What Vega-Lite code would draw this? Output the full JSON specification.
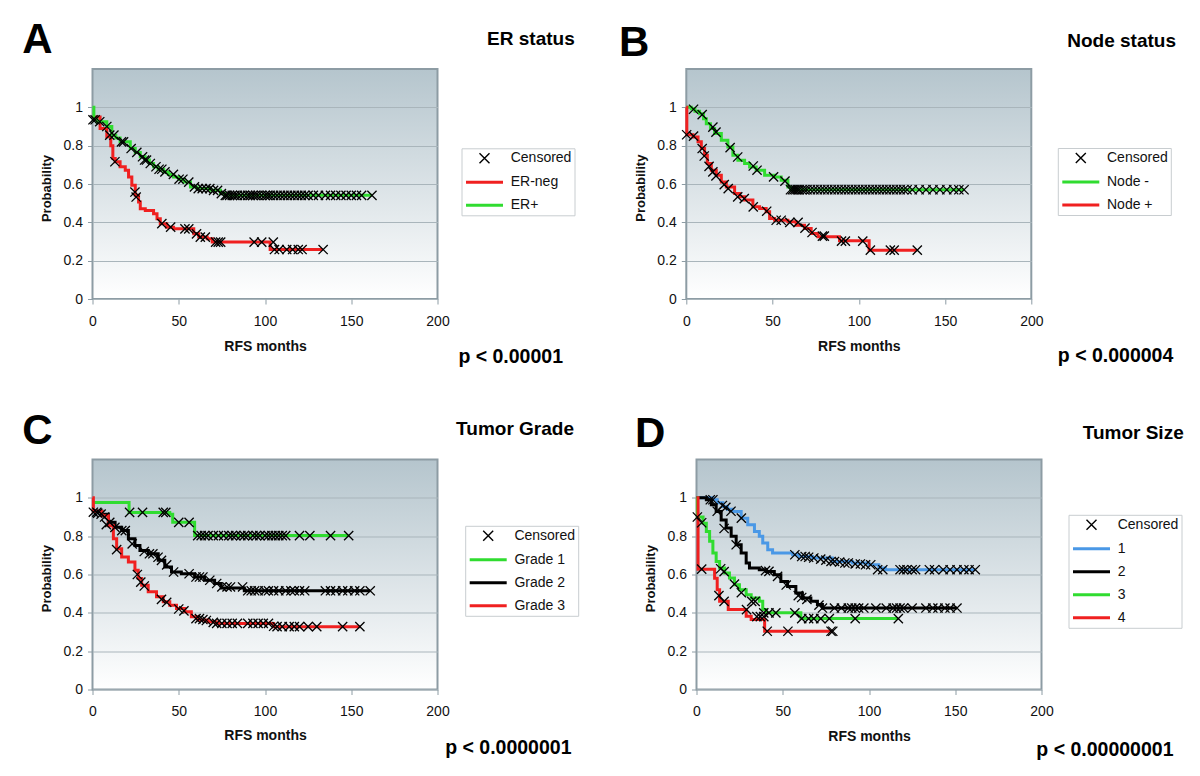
{
"$schema": "https://vega.github.io/schema/vega-lite/v6.json",
"background": "white",
"padding": {"left": 15.5, "top": 13, "right": 0, "bottom": 0},
"spacing": 35.5,
"resolve": {"scale": {"color": "independent", "x": "independent", "y": "independent"}, "legend": {"color": "independent"}},
"vconcat": [
{"hconcat": [
{
"width": 345, "height": 230,
"title": {"text": "p < 0.00001", "orient": "bottom", "anchor": "end", "frame": "group", "align": "right", "baseline": "alphabetic", "dx": 125.5, "offset": 8.4, "font": "Liberation Sans", "fontSize": 19.5, "fontWeight": "bold", "color": "#000000"},
"resolve": {"axis": {"x": "independent", "y": "independent"}},
"layer": [
{"data": {"name": "a_curve"}, "mark": {"type": "line", "interpolate": "step-after", "strokeWidth": 3},
 "encoding": {
  "x": {"field": "t", "type": "quantitative", "scale": {"domain": [0, 200], "nice": false}, "axis": {"orient": "bottom", "values": [0, 50, 100, 150, 200], "labelFlush": false, "grid": false, "tickSize": 5, "labelPadding": 10, "title": "RFS months", "titleFontSize": 14, "titleFontWeight": "bold", "titleX": 172.5, "titleY": 51, "titleAlign": "center", "titleBaseline": "alphabetic", "minExtent": 56}},
  "y": {"field": "p", "type": "quantitative", "scale": {"domain": [0, 1.2], "nice": false}, "axis": {"orient": "left", "values": [0, 0.2, 0.4, 0.6, 0.8, 1], "format": "~g", "grid": true, "tickSize": 5, "labelPadding": 5, "title": "Probability", "titleFontSize": 13, "titleFontWeight": "bold", "titleAngle": 270, "titleAlign": "center", "titleBaseline": "middle", "titleX": -46, "titleY": 119, "minExtent": 76}},
  "color": {"field": "g", "type": "nominal", "scale": {"domain": ["Censored", "ER-neg", "ER+"], "range": ["#000000", "#f02020", "#30dc30"]},
   "legend": {"orient": "none", "legendX": 369, "legendY": 79.3, "title": null,
    "encode": {"symbols": {"update": {"size": {"value": 1369}, "shape": {"signal": "datum.value === 'Censored' ? 'M-0.27,-0.27L0.27,0.27M-0.27,0.27L0.27,-0.27' : 'M-1,0L1,0'"}, "strokeWidth": {"signal": "datum.value === 'Censored' ? 1.4 : 3"}, "fill": {"value": "transparent"}, "opacity": {"value": 1}}}}}}
 }},
{"data": {"name": "a_cens"}, "mark": {"type": "point", "shape": "M-1,-1L1,1M-1,1L1,-1", "size": 85, "filled": false, "strokeWidth": 1.3, "opacity": 1},
 "encoding": {
  "x": {"field": "t", "type": "quantitative", "axis": {"orient": "top", "labels": false, "ticks": false, "domain": false, "grid": false, "title": "A", "titleFontSize": 42, "titleFontWeight": "bold", "titleColor": "#000000", "titleAngle": 0, "titleAlign": "left", "titleBaseline": "alphabetic", "titleX": -70.8, "titleY": -16.3, "minExtent": 55}},
  "y": {"field": "p", "type": "quantitative", "axis": {"orient": "right", "labels": false, "ticks": false, "domain": false, "grid": false, "title": "ER status", "titleFont": "Liberation Sans", "titleFontSize": 19, "titleFontWeight": "bold", "titleColor": "#000000", "titleAngle": 0, "titleAlign": "right", "titleBaseline": "alphabetic", "titleX": 136.7, "titleY": -24.7, "minExtent": 0}},
  "color": {"datum": "Censored", "type": "nominal", "scale": {"domain": ["Censored", "ER-neg", "ER+"], "range": ["#000000", "#f02020", "#30dc30"]}}
 }}
]
},
{
"width": 345, "height": 230,
"title": {"text": "p < 0.000004", "orient": "bottom", "anchor": "end", "frame": "group", "align": "right", "baseline": "alphabetic", "dx": 142, "offset": 7.4, "font": "Liberation Sans", "fontSize": 19.5, "fontWeight": "bold", "color": "#000000"},
"resolve": {"axis": {"x": "independent", "y": "independent"}},
"layer": [
{"data": {"name": "b_curve"}, "mark": {"type": "line", "interpolate": "step-after", "strokeWidth": 3},
 "encoding": {
  "x": {"field": "t", "type": "quantitative", "scale": {"domain": [0, 200], "nice": false}, "axis": {"orient": "bottom", "values": [0, 50, 100, 150, 200], "labelFlush": false, "grid": false, "tickSize": 5, "labelPadding": 10, "title": "RFS months", "titleFontSize": 14, "titleFontWeight": "bold", "titleX": 172.5, "titleY": 51.2, "titleAlign": "center", "titleBaseline": "alphabetic", "minExtent": 56}},
  "y": {"field": "p", "type": "quantitative", "scale": {"domain": [0, 1.2], "nice": false}, "axis": {"orient": "left", "values": [0, 0.2, 0.4, 0.6, 0.8, 1], "format": "~g", "grid": true, "tickSize": 5, "labelPadding": 5, "title": "Probability", "titleFontSize": 13, "titleFontWeight": "bold", "titleAngle": 270, "titleAlign": "center", "titleBaseline": "middle", "titleX": -46, "titleY": 118.7, "minExtent": 70}},
  "color": {"field": "g", "type": "nominal", "scale": {"domain": ["Censored", "Node -", "Node +"], "range": ["#000000", "#30dc30", "#f02020"]},
   "legend": {"orient": "none", "legendX": 371.5, "legendY": 79, "title": null,
    "encode": {"symbols": {"update": {"size": {"value": 1369}, "shape": {"signal": "datum.value === 'Censored' ? 'M-0.27,-0.27L0.27,0.27M-0.27,0.27L0.27,-0.27' : 'M-1,0L1,0'"}, "strokeWidth": {"signal": "datum.value === 'Censored' ? 1.4 : 3"}, "fill": {"value": "transparent"}, "opacity": {"value": 1}}}}}}
 }},
{"data": {"name": "b_cens"}, "mark": {"type": "point", "shape": "M-1,-1L1,1M-1,1L1,-1", "size": 85, "filled": false, "strokeWidth": 1.3, "opacity": 1},
 "encoding": {
  "x": {"field": "t", "type": "quantitative", "axis": {"orient": "top", "labels": false, "ticks": false, "domain": false, "grid": false, "title": "B", "titleFontSize": 42, "titleFontWeight": "bold", "titleColor": "#000000", "titleAngle": 0, "titleAlign": "left", "titleBaseline": "alphabetic", "titleX": -67.7, "titleY": -13.7, "minExtent": 55}},
  "y": {"field": "p", "type": "quantitative", "axis": {"orient": "right", "labels": false, "ticks": false, "domain": false, "grid": false, "title": "Node status", "titleFont": "Liberation Sans", "titleFontSize": 19, "titleFontWeight": "bold", "titleColor": "#000000", "titleAngle": 0, "titleAlign": "right", "titleBaseline": "alphabetic", "titleX": 144.2, "titleY": -23, "minExtent": 0}},
  "color": {"datum": "Censored", "type": "nominal", "scale": {"domain": ["Censored", "Node -", "Node +"], "range": ["#000000", "#30dc30", "#f02020"]}}
 }}
]
}
], "spacing": 38.8, "resolve": {"scale": {"color": "independent", "x": "independent", "y": "independent"}, "legend": {"color": "independent"}}},
{"hconcat": [
{
"width": 345, "height": 230,
"title": {"text": "p < 0.0000001", "orient": "bottom", "anchor": "end", "frame": "group", "align": "right", "baseline": "alphabetic", "dx": 134, "offset": 8.4, "font": "Liberation Sans", "fontSize": 19.5, "fontWeight": "bold", "color": "#000000"},
"resolve": {"axis": {"x": "independent", "y": "independent"}},
"layer": [
{"data": {"name": "c_curve"}, "mark": {"type": "line", "interpolate": "step-after", "strokeWidth": 3},
 "encoding": {
  "x": {"field": "t", "type": "quantitative", "scale": {"domain": [0, 200], "nice": false}, "axis": {"orient": "bottom", "values": [0, 50, 100, 150, 200], "labelFlush": false, "grid": false, "tickSize": 5, "labelPadding": 10, "title": "RFS months", "titleFontSize": 14, "titleFontWeight": "bold", "titleX": 172.5, "titleY": 50.2, "titleAlign": "center", "titleBaseline": "alphabetic", "minExtent": 56}},
  "y": {"field": "p", "type": "quantitative", "scale": {"domain": [0, 1.2], "nice": false}, "axis": {"orient": "left", "values": [0, 0.2, 0.4, 0.6, 0.8, 1], "format": "~g", "grid": true, "tickSize": 5, "labelPadding": 5, "title": "Probability", "titleFontSize": 13, "titleFontWeight": "bold", "titleAngle": 270, "titleAlign": "center", "titleBaseline": "middle", "titleX": -45.8, "titleY": 118.7, "minExtent": 73}},
  "color": {"field": "g", "type": "nominal", "scale": {"domain": ["Censored", "Grade 1", "Grade 2", "Grade 3"], "range": ["#000000", "#30dc30", "#000000", "#f02020"]},
   "legend": {"orient": "none", "legendX": 372.7, "legendY": 66.3, "title": null,
    "encode": {"symbols": {"update": {"size": {"value": 1369}, "shape": {"signal": "datum.value === 'Censored' ? 'M-0.27,-0.27L0.27,0.27M-0.27,0.27L0.27,-0.27' : 'M-1,0L1,0'"}, "strokeWidth": {"signal": "datum.value === 'Censored' ? 1.4 : 3"}, "fill": {"value": "transparent"}, "opacity": {"value": 1}}}}}}
 }},
{"data": {"name": "c_cens"}, "mark": {"type": "point", "shape": "M-1,-1L1,1M-1,1L1,-1", "size": 85, "filled": false, "strokeWidth": 1.3, "opacity": 1},
 "encoding": {
  "x": {"field": "t", "type": "quantitative", "axis": {"orient": "top", "labels": false, "ticks": false, "domain": false, "grid": false, "title": "C", "titleFontSize": 42, "titleFontWeight": "bold", "titleColor": "#000000", "titleAngle": 0, "titleAlign": "left", "titleBaseline": "alphabetic", "titleX": -70.8, "titleY": -16, "minExtent": 55}},
  "y": {"field": "p", "type": "quantitative", "axis": {"orient": "right", "labels": false, "ticks": false, "domain": false, "grid": false, "title": "Tumor Grade", "titleFont": "Liberation Sans", "titleFontSize": 19, "titleFontWeight": "bold", "titleColor": "#000000", "titleAngle": 0, "titleAlign": "right", "titleBaseline": "alphabetic", "titleX": 136, "titleY": -25.3, "minExtent": 0}},
  "color": {"datum": "Censored", "type": "nominal", "scale": {"domain": ["Censored", "Grade 1", "Grade 2", "Grade 3"], "range": ["#000000", "#30dc30", "#000000", "#f02020"]}}
 }}
]
},
{
"width": 345, "height": 230,
"title": {"text": "p < 0.00000001", "orient": "bottom", "anchor": "end", "frame": "group", "align": "right", "baseline": "alphabetic", "dx": 132, "offset": 10, "font": "Liberation Sans", "fontSize": 19.5, "fontWeight": "bold", "color": "#000000"},
"resolve": {"axis": {"x": "independent", "y": "independent"}},
"layer": [
{"data": {"name": "d_curve"}, "mark": {"type": "line", "interpolate": "step-after", "strokeWidth": 3},
 "encoding": {
  "x": {"field": "t", "type": "quantitative", "scale": {"domain": [0, 200], "nice": false}, "axis": {"orient": "bottom", "values": [0, 50, 100, 150, 200], "labelFlush": false, "grid": false, "tickSize": 5, "labelPadding": 10, "title": "RFS months", "titleFontSize": 14, "titleFontWeight": "bold", "titleX": 172.5, "titleY": 51.2, "titleAlign": "center", "titleBaseline": "alphabetic", "minExtent": 56}},
  "y": {"field": "p", "type": "quantitative", "scale": {"domain": [0, 1.2], "nice": false}, "axis": {"orient": "left", "values": [0, 0.2, 0.4, 0.6, 0.8, 1], "format": "~g", "grid": true, "tickSize": 5, "labelPadding": 5, "title": "Probability", "titleFontSize": 13, "titleFontWeight": "bold", "titleAngle": 270, "titleAlign": "center", "titleBaseline": "middle", "titleX": -45.7, "titleY": 118.7, "minExtent": 70}},
  "color": {"field": "g", "type": "nominal", "scale": {"domain": ["Censored", "1", "2", "3", "4"], "range": ["#000000", "#4a98e6", "#000000", "#30dc30", "#f02020"]},
   "legend": {"orient": "none", "legendX": 372, "legendY": 55.3, "title": null,
    "encode": {"symbols": {"update": {"size": {"value": 1369}, "shape": {"signal": "datum.value === 'Censored' ? 'M-0.27,-0.27L0.27,0.27M-0.27,0.27L0.27,-0.27' : 'M-1,0L1,0'"}, "strokeWidth": {"signal": "datum.value === 'Censored' ? 1.4 : 3"}, "fill": {"value": "transparent"}, "opacity": {"value": 1}}}}}}
 }},
{"data": {"name": "d_cens"}, "mark": {"type": "point", "shape": "M-1,-1L1,1M-1,1L1,-1", "size": 85, "filled": false, "strokeWidth": 1.3, "opacity": 1},
 "encoding": {
  "x": {"field": "t", "type": "quantitative", "axis": {"orient": "top", "labels": false, "ticks": false, "domain": false, "grid": false, "title": "D", "titleFontSize": 42, "titleFontWeight": "bold", "titleColor": "#000000", "titleAngle": 0, "titleAlign": "left", "titleBaseline": "alphabetic", "titleX": -61.9, "titleY": -13, "minExtent": 55}},
  "y": {"field": "p", "type": "quantitative", "axis": {"orient": "right", "labels": false, "ticks": false, "domain": false, "grid": false, "title": "Tumor Size", "titleFont": "Liberation Sans", "titleFontSize": 19, "titleFontWeight": "bold", "titleColor": "#000000", "titleAngle": 0, "titleAlign": "right", "titleBaseline": "alphabetic", "titleX": 141.7, "titleY": -21.3, "minExtent": 0}},
  "color": {"datum": "Censored", "type": "nominal", "scale": {"domain": ["Censored", "1", "2", "3", "4"], "range": ["#000000", "#4a98e6", "#000000", "#30dc30", "#f02020"]}}
 }}
]
}
], "spacing": 45, "resolve": {"scale": {"color": "independent", "x": "independent", "y": "independent"}, "legend": {"color": "independent"}}}
],
"datasets": {
"a_curve": [
{"g":"ER-neg","t":0,"p":0.95},{"g":"ER-neg","t":4.4,"p":0.89},{"g":"ER-neg","t":8.3,"p":0.846},{"g":"ER-neg","t":10.6,"p":0.8},{"g":"ER-neg","t":11.8,"p":0.733},{"g":"ER-neg","t":13.2,"p":0.716},{"g":"ER-neg","t":16,"p":0.69},{"g":"ER-neg","t":19,"p":0.672},{"g":"ER-neg","t":20.9,"p":0.637},{"g":"ER-neg","t":22.8,"p":0.593},{"g":"ER-neg","t":24.8,"p":0.541},{"g":"ER-neg","t":26.7,"p":0.506},{"g":"ER-neg","t":27.7,"p":0.471},{"g":"ER-neg","t":30.6,"p":0.462},{"g":"ER-neg","t":35.4,"p":0.445},{"g":"ER-neg","t":37.4,"p":0.419},{"g":"ER-neg","t":39.3,"p":0.393},{"g":"ER-neg","t":43,"p":0.375},{"g":"ER-neg","t":47,"p":0.366},{"g":"ER-neg","t":58.7,"p":0.34},{"g":"ER-neg","t":61.6,"p":0.323},{"g":"ER-neg","t":66.5,"p":0.314},{"g":"ER-neg","t":69.4,"p":0.297},{"g":"ER-neg","t":103,"p":0.258},{"g":"ER-neg","t":133.5,"p":0.258},
{"g":"ER+","t":0,"p":1.0},{"g":"ER+","t":0.8,"p":0.935},{"g":"ER+","t":2.5,"p":0.925},{"g":"ER+","t":8.3,"p":0.9},{"g":"ER+","t":11.2,"p":0.855},{"g":"ER+","t":13.5,"p":0.84},{"g":"ER+","t":16,"p":0.82},{"g":"ER+","t":21.9,"p":0.785},{"g":"ER+","t":24.8,"p":0.765},{"g":"ER+","t":27.7,"p":0.742},{"g":"ER+","t":30.5,"p":0.725},{"g":"ER+","t":33,"p":0.707},{"g":"ER+","t":35.4,"p":0.69},{"g":"ER+","t":38,"p":0.677},{"g":"ER+","t":41.3,"p":0.663},{"g":"ER+","t":44,"p":0.65},{"g":"ER+","t":47,"p":0.637},{"g":"ER+","t":50,"p":0.625},{"g":"ER+","t":53,"p":0.61},{"g":"ER+","t":56.8,"p":0.585},{"g":"ER+","t":60.6,"p":0.576},{"g":"ER+","t":68.4,"p":0.567},{"g":"ER+","t":74.2,"p":0.55},{"g":"ER+","t":76.5,"p":0.541},{"g":"ER+","t":162,"p":0.541}
],
"a_cens": [
{"t":0.3,"p":0.935},{"t":1.5,"p":0.935},{"t":4.2,"p":0.925},{"t":8.3,"p":0.9},{"t":10,"p":0.855},{"t":12.4,"p":0.855},{"t":16.8,"p":0.82},{"t":18,"p":0.82},{"t":22.4,"p":0.785},{"t":25.7,"p":0.765},{"t":29,"p":0.742},{"t":30.2,"p":0.725},{"t":31.3,"p":0.725},{"t":33.5,"p":0.707},{"t":36.8,"p":0.69},{"t":38.6,"p":0.677},{"t":40.2,"p":0.677},{"t":42,"p":0.663},{"t":46.9,"p":0.65},{"t":50.2,"p":0.625},{"t":52.4,"p":0.625},{"t":55.8,"p":0.61},{"t":59.1,"p":0.585},{"t":61.3,"p":0.576},{"t":63.6,"p":0.576},{"t":65.8,"p":0.576},{"t":68,"p":0.576},{"t":70.2,"p":0.567},{"t":72.5,"p":0.567},{"t":74.7,"p":0.55},{"t":77,"p":0.541},{"t":78,"p":0.541},{"t":79.5,"p":0.541},{"t":81,"p":0.541},{"t":82.5,"p":0.541},{"t":84,"p":0.541},{"t":86,"p":0.541},{"t":88,"p":0.541},{"t":90,"p":0.541},{"t":91.5,"p":0.541},{"t":93,"p":0.541},{"t":94.5,"p":0.541},{"t":96,"p":0.541},{"t":98,"p":0.541},{"t":100,"p":0.541},{"t":101.5,"p":0.541},{"t":103,"p":0.541},{"t":105,"p":0.541},{"t":107,"p":0.541},{"t":109,"p":0.541},{"t":111,"p":0.541},{"t":113,"p":0.541},{"t":115,"p":0.541},{"t":117,"p":0.541},{"t":119,"p":0.541},{"t":121,"p":0.541},{"t":123,"p":0.541},{"t":125,"p":0.541},{"t":128,"p":0.541},{"t":131,"p":0.541},{"t":135,"p":0.541},{"t":138,"p":0.541},{"t":141,"p":0.541},{"t":144,"p":0.541},{"t":147,"p":0.541},{"t":150,"p":0.541},{"t":153,"p":0.541},{"t":156,"p":0.541},{"t":162,"p":0.541},
{"t":13,"p":0.716},{"t":24.6,"p":0.558},{"t":25.3,"p":0.532},{"t":40.2,"p":0.393},{"t":45.3,"p":0.375},{"t":53.6,"p":0.366},{"t":55.8,"p":0.366},{"t":60.3,"p":0.34},{"t":62.5,"p":0.323},{"t":65.4,"p":0.323},{"t":71.4,"p":0.297},{"t":72.9,"p":0.297},{"t":74.3,"p":0.297},{"t":93.7,"p":0.297},{"t":98.1,"p":0.297},{"t":104.8,"p":0.297},{"t":105.5,"p":0.258},{"t":108.2,"p":0.258},{"t":112.6,"p":0.258},{"t":116,"p":0.258},{"t":119.3,"p":0.258},{"t":121.5,"p":0.258},{"t":133.7,"p":0.258}
],
"b_curve": [
{"g":"Node -","t":0,"p":1.0},{"g":"Node -","t":2.9,"p":0.993},{"g":"Node -","t":5,"p":0.98},{"g":"Node -","t":7.7,"p":0.967},{"g":"Node -","t":10,"p":0.94},{"g":"Node -","t":11.6,"p":0.915},{"g":"Node -","t":14,"p":0.89},{"g":"Node -","t":16.4,"p":0.863},{"g":"Node -","t":20.3,"p":0.828},{"g":"Node -","t":24.1,"p":0.793},{"g":"Node -","t":27,"p":0.75},{"g":"Node -","t":29.9,"p":0.724},{"g":"Node -","t":33.8,"p":0.707},{"g":"Node -","t":36.7,"p":0.689},{"g":"Node -","t":40.5,"p":0.672},{"g":"Node -","t":45.4,"p":0.646},{"g":"Node -","t":51.2,"p":0.637},{"g":"Node -","t":55,"p":0.62},{"g":"Node -","t":58.9,"p":0.585},{"g":"Node -","t":60.4,"p":0.57},{"g":"Node -","t":161,"p":0.57},
{"g":"Node +","t":0,"p":1.0},{"g":"Node +","t":0.3,"p":0.857},{"g":"Node +","t":3.9,"p":0.845},{"g":"Node +","t":6.8,"p":0.82},{"g":"Node +","t":8.7,"p":0.785},{"g":"Node +","t":10.6,"p":0.75},{"g":"Node +","t":12.2,"p":0.707},{"g":"Node +","t":14.5,"p":0.672},{"g":"Node +","t":17.4,"p":0.646},{"g":"Node +","t":20.3,"p":0.611},{"g":"Node +","t":23.2,"p":0.585},{"g":"Node +","t":28,"p":0.55},{"g":"Node +","t":30.9,"p":0.533},{"g":"Node +","t":33.8,"p":0.516},{"g":"Node +","t":38.6,"p":0.481},{"g":"Node +","t":42.5,"p":0.472},{"g":"Node +","t":46.3,"p":0.455},{"g":"Node +","t":48.3,"p":0.42},{"g":"Node +","t":51.2,"p":0.411},{"g":"Node +","t":58.9,"p":0.403},{"g":"Node +","t":63.7,"p":0.385},{"g":"Node +","t":68.5,"p":0.368},{"g":"Node +","t":72.4,"p":0.342},{"g":"Node +","t":76.3,"p":0.325},{"g":"Node +","t":88.8,"p":0.304},{"g":"Node +","t":106,"p":0.255},{"g":"Node +","t":133.5,"p":0.255}
],
"b_cens": [
{"t":4.2,"p":0.99},{"t":9.2,"p":0.962},{"t":15.4,"p":0.897},{"t":17.2,"p":0.871},{"t":25.4,"p":0.79},{"t":29.8,"p":0.741},{"t":38.8,"p":0.694},{"t":41,"p":0.672},{"t":50.6,"p":0.637},{"t":57.2,"p":0.615},{"t":60.4,"p":0.57},{"t":61.5,"p":0.57},{"t":62.5,"p":0.57},{"t":63.5,"p":0.57},{"t":64.5,"p":0.57},{"t":65.5,"p":0.57},{"t":67,"p":0.57},{"t":68.5,"p":0.57},{"t":70,"p":0.57},{"t":72,"p":0.57},{"t":74,"p":0.57},{"t":76,"p":0.57},{"t":78,"p":0.57},{"t":80,"p":0.57},{"t":82,"p":0.57},{"t":84,"p":0.57},{"t":86,"p":0.57},{"t":88,"p":0.57},{"t":90,"p":0.57},{"t":92,"p":0.57},{"t":94,"p":0.57},{"t":96,"p":0.57},{"t":98,"p":0.57},{"t":100,"p":0.57},{"t":102,"p":0.57},{"t":104,"p":0.57},{"t":106,"p":0.57},{"t":108,"p":0.57},{"t":110,"p":0.57},{"t":112,"p":0.57},{"t":114,"p":0.57},{"t":116,"p":0.57},{"t":118,"p":0.57},{"t":120,"p":0.57},{"t":122,"p":0.57},{"t":124,"p":0.57},{"t":126,"p":0.57},{"t":128,"p":0.57},{"t":131,"p":0.57},{"t":135,"p":0.57},{"t":139,"p":0.57},{"t":143,"p":0.57},{"t":147,"p":0.57},{"t":151,"p":0.57},{"t":155,"p":0.57},{"t":158,"p":0.57},{"t":161,"p":0.57},
{"t":0.2,"p":0.857},{"t":4.2,"p":0.85},{"t":9.2,"p":0.785},{"t":10.4,"p":0.746},{"t":13.2,"p":0.692},{"t":15.4,"p":0.663},{"t":17.2,"p":0.642},{"t":22,"p":0.597},{"t":24.3,"p":0.576},{"t":29.8,"p":0.533},{"t":33.6,"p":0.524},{"t":38.8,"p":0.481},{"t":46.6,"p":0.458},{"t":52.1,"p":0.411},{"t":55,"p":0.411},{"t":60,"p":0.4},{"t":64.8,"p":0.4},{"t":68.8,"p":0.37},{"t":72.9,"p":0.347},{"t":78.9,"p":0.328},{"t":80,"p":0.328},{"t":90,"p":0.302},{"t":92.2,"p":0.302},{"t":102.3,"p":0.302},{"t":106.7,"p":0.255},{"t":118.3,"p":0.255},{"t":120.5,"p":0.255},{"t":133.9,"p":0.255}
],
"c_curve": [
{"g":"Grade 1","t":0,"p":0.976},{"g":"Grade 1","t":21.2,"p":0.924},{"g":"Grade 1","t":44.8,"p":0.915},{"g":"Grade 1","t":46.5,"p":0.872},{"g":"Grade 1","t":59.2,"p":0.803},{"g":"Grade 1","t":148.5,"p":0.803},
{"g":"Grade 2","t":0,"p":0.93},{"g":"Grade 2","t":5.4,"p":0.915},{"g":"Grade 2","t":9.2,"p":0.872},{"g":"Grade 2","t":13.1,"p":0.846},{"g":"Grade 2","t":16.9,"p":0.829},{"g":"Grade 2","t":20.8,"p":0.786},{"g":"Grade 2","t":24.6,"p":0.751},{"g":"Grade 2","t":27.5,"p":0.725},{"g":"Grade 2","t":32.3,"p":0.708},{"g":"Grade 2","t":38.1,"p":0.674},{"g":"Grade 2","t":41.9,"p":0.639},{"g":"Grade 2","t":45.8,"p":0.613},{"g":"Grade 2","t":51.5,"p":0.604},{"g":"Grade 2","t":59.2,"p":0.587},{"g":"Grade 2","t":65,"p":0.57},{"g":"Grade 2","t":70.8,"p":0.553},{"g":"Grade 2","t":74.6,"p":0.53},{"g":"Grade 2","t":88,"p":0.515},{"g":"Grade 2","t":161,"p":0.515},
{"g":"Grade 3","t":0,"p":1.0},{"g":"Grade 3","t":0.5,"p":0.93},{"g":"Grade 3","t":5.4,"p":0.907},{"g":"Grade 3","t":9.2,"p":0.855},{"g":"Grade 3","t":12.1,"p":0.786},{"g":"Grade 3","t":14,"p":0.734},{"g":"Grade 3","t":16.9,"p":0.691},{"g":"Grade 3","t":20.8,"p":0.665},{"g":"Grade 3","t":24.6,"p":0.622},{"g":"Grade 3","t":26.5,"p":0.579},{"g":"Grade 3","t":28.5,"p":0.544},{"g":"Grade 3","t":32.3,"p":0.51},{"g":"Grade 3","t":37.1,"p":0.484},{"g":"Grade 3","t":41,"p":0.458},{"g":"Grade 3","t":44.8,"p":0.44},{"g":"Grade 3","t":48.7,"p":0.423},{"g":"Grade 3","t":53.5,"p":0.406},{"g":"Grade 3","t":57.3,"p":0.38},{"g":"Grade 3","t":61.2,"p":0.363},{"g":"Grade 3","t":66.9,"p":0.354},{"g":"Grade 3","t":71.7,"p":0.345},{"g":"Grade 3","t":105,"p":0.328},{"g":"Grade 3","t":155.4,"p":0.328}
],
"c_cens": [
{"t":21.5,"p":0.924},{"t":29,"p":0.924},{"t":41,"p":0.924},{"t":42.5,"p":0.924},{"t":50,"p":0.872},{"t":56,"p":0.872},{"t":61,"p":0.803},{"t":63,"p":0.803},{"t":65,"p":0.803},{"t":67,"p":0.803},{"t":70,"p":0.803},{"t":73,"p":0.803},{"t":76,"p":0.803},{"t":79,"p":0.803},{"t":81,"p":0.803},{"t":83,"p":0.803},{"t":86,"p":0.803},{"t":88,"p":0.803},{"t":90,"p":0.803},{"t":93,"p":0.803},{"t":95,"p":0.803},{"t":97,"p":0.803},{"t":100,"p":0.803},{"t":102,"p":0.803},{"t":104,"p":0.803},{"t":106,"p":0.803},{"t":108,"p":0.803},{"t":110,"p":0.803},{"t":112,"p":0.803},{"t":120,"p":0.803},{"t":126,"p":0.803},{"t":138,"p":0.803},{"t":148.5,"p":0.803},
{"t":0.5,"p":0.925},{"t":2.5,"p":0.925},{"t":5,"p":0.915},{"t":7,"p":0.9},{"t":10,"p":0.872},{"t":13,"p":0.846},{"t":17,"p":0.829},{"t":19,"p":0.829},{"t":23,"p":0.76},{"t":30,"p":0.72},{"t":33,"p":0.708},{"t":35,"p":0.708},{"t":38,"p":0.69},{"t":40,"p":0.674},{"t":43,"p":0.65},{"t":47,"p":0.613},{"t":56,"p":0.604},{"t":60,"p":0.587},{"t":62,"p":0.587},{"t":64,"p":0.587},{"t":68,"p":0.57},{"t":72,"p":0.553},{"t":75,"p":0.535},{"t":78,"p":0.535},{"t":80,"p":0.535},{"t":87,"p":0.535},{"t":90,"p":0.515},{"t":92,"p":0.515},{"t":94,"p":0.515},{"t":96,"p":0.515},{"t":100,"p":0.515},{"t":102,"p":0.515},{"t":105,"p":0.515},{"t":108,"p":0.515},{"t":112,"p":0.515},{"t":115,"p":0.515},{"t":117,"p":0.515},{"t":120,"p":0.515},{"t":123,"p":0.515},{"t":135,"p":0.515},{"t":138,"p":0.515},{"t":141,"p":0.515},{"t":145,"p":0.515},{"t":148,"p":0.515},{"t":152,"p":0.515},{"t":155,"p":0.515},{"t":161,"p":0.515},
{"t":3,"p":0.92},{"t":8,"p":0.86},{"t":14,"p":0.73},{"t":26,"p":0.6},{"t":28,"p":0.56},{"t":30,"p":0.54},{"t":40,"p":0.47},{"t":43,"p":0.455},{"t":50,"p":0.42},{"t":53,"p":0.41},{"t":60,"p":0.37},{"t":62,"p":0.37},{"t":64,"p":0.365},{"t":66,"p":0.36},{"t":70,"p":0.35},{"t":72,"p":0.345},{"t":75,"p":0.345},{"t":78,"p":0.345},{"t":81,"p":0.345},{"t":84,"p":0.345},{"t":90,"p":0.345},{"t":93,"p":0.345},{"t":96,"p":0.345},{"t":99,"p":0.345},{"t":102,"p":0.345},{"t":105,"p":0.33},{"t":107,"p":0.328},{"t":110,"p":0.328},{"t":114,"p":0.328},{"t":117,"p":0.328},{"t":120,"p":0.328},{"t":125,"p":0.328},{"t":130,"p":0.328},{"t":145,"p":0.328},{"t":155,"p":0.328}
],
"d_curve": [
{"g":"1","t":0,"p":1.0},{"g":"1","t":9.5,"p":0.99},{"g":"1","t":12,"p":0.975},{"g":"1","t":15.3,"p":0.955},{"g":"1","t":18,"p":0.94},{"g":"1","t":21,"p":0.929},{"g":"1","t":25.9,"p":0.894},{"g":"1","t":29.7,"p":0.859},{"g":"1","t":33.6,"p":0.825},{"g":"1","t":36.4,"p":0.8},{"g":"1","t":38.4,"p":0.764},{"g":"1","t":41.3,"p":0.729},{"g":"1","t":44.1,"p":0.712},{"g":"1","t":55.7,"p":0.703},{"g":"1","t":59.5,"p":0.694},{"g":"1","t":67.2,"p":0.686},{"g":"1","t":78.8,"p":0.668},{"g":"1","t":90.3,"p":0.66},{"g":"1","t":100,"p":0.651},{"g":"1","t":105.7,"p":0.634},{"g":"1","t":109.5,"p":0.625},{"g":"1","t":161.6,"p":0.625},
{"g":"2","t":0,"p":1.0},{"g":"2","t":5.7,"p":0.99},{"g":"2","t":8.6,"p":0.964},{"g":"2","t":11.4,"p":0.929},{"g":"2","t":14.3,"p":0.885},{"g":"2","t":17.2,"p":0.842},{"g":"2","t":20.1,"p":0.8},{"g":"2","t":23,"p":0.755},{"g":"2","t":25.9,"p":0.712},{"g":"2","t":28.8,"p":0.66},{"g":"2","t":30.7,"p":0.634},{"g":"2","t":36.4,"p":0.625},{"g":"2","t":40.3,"p":0.616},{"g":"2","t":45.1,"p":0.599},{"g":"2","t":48.9,"p":0.564},{"g":"2","t":52.8,"p":0.538},{"g":"2","t":57.6,"p":0.503},{"g":"2","t":61.4,"p":0.477},{"g":"2","t":66.3,"p":0.46},{"g":"2","t":70.1,"p":0.443},{"g":"2","t":73,"p":0.425},{"g":"2","t":151,"p":0.425},
{"g":"3","t":0,"p":1.0},{"g":"3","t":0.5,"p":0.9},{"g":"3","t":3.8,"p":0.868},{"g":"3","t":5.7,"p":0.825},{"g":"3","t":7.6,"p":0.773},{"g":"3","t":9.5,"p":0.712},{"g":"3","t":11.4,"p":0.668},{"g":"3","t":13.4,"p":0.634},{"g":"3","t":16.3,"p":0.608},{"g":"3","t":19.1,"p":0.582},{"g":"3","t":22,"p":0.547},{"g":"3","t":24.9,"p":0.521},{"g":"3","t":28.8,"p":0.495},{"g":"3","t":31.7,"p":0.477},{"g":"3","t":36.4,"p":0.46},{"g":"3","t":38.4,"p":0.417},{"g":"3","t":40.3,"p":0.4},{"g":"3","t":60.5,"p":0.37},{"g":"3","t":117,"p":0.37},
{"g":"4","t":0,"p":1.0},{"g":"4","t":0.9,"p":0.628},{"g":"4","t":10.5,"p":0.58},{"g":"4","t":12,"p":0.52},{"g":"4","t":13.4,"p":0.46},{"g":"4","t":18.4,"p":0.417},{"g":"4","t":28.8,"p":0.382},{"g":"4","t":31.7,"p":0.365},{"g":"4","t":39.5,"p":0.304},{"g":"4","t":79,"p":0.304}
],
"d_cens": [
{"t":9.5,"p":0.99},{"t":15,"p":0.96},{"t":17,"p":0.95},{"t":20,"p":0.93},{"t":26,"p":0.894},{"t":57,"p":0.703},{"t":61,"p":0.694},{"t":63,"p":0.694},{"t":65,"p":0.69},{"t":68,"p":0.686},{"t":72,"p":0.68},{"t":75,"p":0.675},{"t":78,"p":0.668},{"t":80,"p":0.668},{"t":83,"p":0.665},{"t":86,"p":0.66},{"t":88,"p":0.66},{"t":92,"p":0.655},{"t":95,"p":0.655},{"t":98,"p":0.651},{"t":101,"p":0.651},{"t":105,"p":0.625},{"t":108,"p":0.625},{"t":118,"p":0.625},{"t":120,"p":0.625},{"t":122,"p":0.625},{"t":125,"p":0.625},{"t":127,"p":0.625},{"t":135,"p":0.625},{"t":138,"p":0.625},{"t":143,"p":0.625},{"t":147,"p":0.625},{"t":151,"p":0.625},{"t":155,"p":0.625},{"t":158,"p":0.625},{"t":161.6,"p":0.625},
{"t":8,"p":0.99},{"t":12,"p":0.93},{"t":16,"p":0.84},{"t":23,"p":0.755},{"t":40,"p":0.62},{"t":42,"p":0.616},{"t":47,"p":0.59},{"t":52,"p":0.545},{"t":59,"p":0.49},{"t":61,"p":0.48},{"t":64,"p":0.47},{"t":71,"p":0.44},{"t":73,"p":0.425},{"t":80,"p":0.425},{"t":84,"p":0.425},{"t":88,"p":0.425},{"t":90,"p":0.425},{"t":92,"p":0.425},{"t":94,"p":0.425},{"t":97,"p":0.425},{"t":104,"p":0.425},{"t":110,"p":0.425},{"t":114,"p":0.425},{"t":116,"p":0.425},{"t":118,"p":0.425},{"t":120,"p":0.425},{"t":125,"p":0.425},{"t":133,"p":0.425},{"t":137,"p":0.425},{"t":140,"p":0.425},{"t":144,"p":0.425},{"t":147,"p":0.425},{"t":151,"p":0.425},
{"t":0.5,"p":0.9},{"t":3,"p":0.87},{"t":14,"p":0.63},{"t":16,"p":0.615},{"t":22,"p":0.55},{"t":26,"p":0.505},{"t":32,"p":0.46},{"t":34,"p":0.46},{"t":39,"p":0.4},{"t":42,"p":0.4},{"t":46,"p":0.4},{"t":57,"p":0.4},{"t":61,"p":0.37},{"t":65,"p":0.37},{"t":68,"p":0.37},{"t":72,"p":0.37},{"t":77,"p":0.37},{"t":92,"p":0.37},{"t":117,"p":0.37},
{"t":3,"p":0.628},{"t":13,"p":0.49},{"t":16,"p":0.46},{"t":29,"p":0.417},{"t":35,"p":0.38},{"t":37,"p":0.38},{"t":39,"p":0.38},{"t":41,"p":0.304},{"t":53,"p":0.304},{"t":78,"p":0.304},{"t":79,"p":0.304}
]
},
"config": {
"font": "Liberation Sans",
"view": {"stroke": "#8d9ca4", "strokeWidth": 2, "fill": {"gradient": "linear", "x1": 0, "y1": 0, "x2": 0, "y2": 1, "stops": [{"offset": 0, "color": "#b5c5cd"}, {"offset": 1, "color": "#ffffff"}]}},
"axis": {"labelFont": "Liberation Sans", "titleFont": "Liberation Sans", "labelColor": "#111111", "titleColor": "#111111", "tickColor": "#8d9ca4", "gridColor": "#a9b5bb", "labelFontSize": 14, "domain": false},
"legend": {"padding": 3, "rowPadding": 9, "labelOffset": 19.2, "symbolOffset": 13, "symbolSize": 1369, "symbolStrokeWidth": 3, "labelFontSize": 14, "labelFont": "Liberation Sans", "labelColor": "#111111", "strokeColor": "#c8cdd0", "fillColor": "#ffffff"}
}
}
